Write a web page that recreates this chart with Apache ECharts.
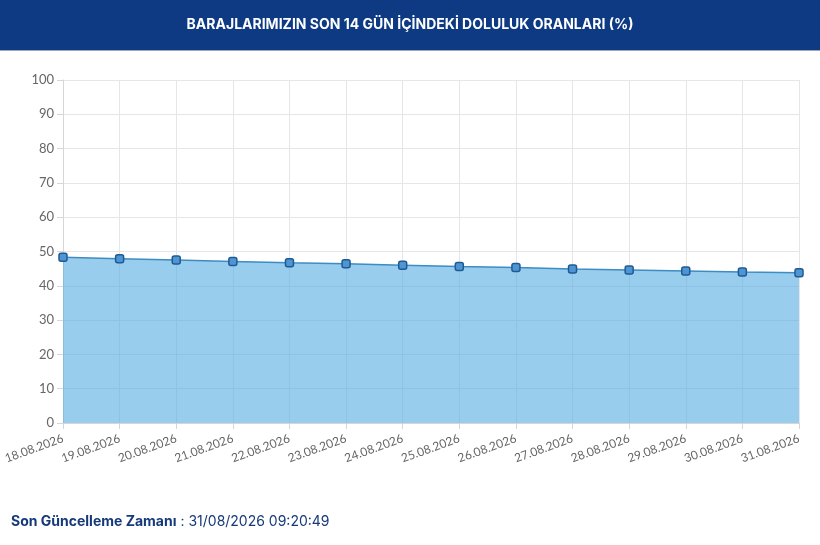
<!DOCTYPE html>
<html>
<head>
<meta charset="utf-8">
<script src="https://cdn.jsdelivr.net/npm/echarts@6/dist/echarts.min.js"></script>
<style>
  html, body { margin: 0; padding: 0; background: #fff; }
  #chart { width: 820px; height: 545px; }
</style>
</head>
<body>
<div id="chart"></div>
<script>
// tarih etiketleri
const dates = [
  '18.08.2026', '19.08.2026', '20.08.2026', '21.08.2026', '22.08.2026',
  '23.08.2026', '24.08.2026', '25.08.2026', '26.08.2026', '27.08.2026',
  '28.08.2026', '29.08.2026', '30.08.2026', '31.08.2026'
];
// doluluk oranlari (%)
const rates = [48.3, 47.9, 47.5, 47.1, 46.7, 46.4, 46.0, 45.6, 45.3, 44.9, 44.6, 44.3, 44.0, 43.8];

const titleText = 'BARAJLARIMIZIN SON 14 GÜN İÇİNDEKİ DOLULUK ORANLARI (%)';
const updateLabel = 'Son Güncelleme Zamanı';
const updateTime = '31/08/2026 09:20:49';

const myChart = echarts.init(document.getElementById('chart'));

myChart.setOption({
  animation: false,
  textStyle: { fontFamily: 'Lato, "Noto Sans", sans-serif' },
  graphic: [
    {
      type: 'rect',
      shape: { x: 0, y: 0, width: 820, height: 50 },
      style: { fill: '#0d3a82' },
      z: 0
    },
    {
      type: 'rect',
      shape: { x: 0, y: 50, width: 820, height: 1 },
      style: { fill: '#9aa6b8' },
      z: 0
    }
  ],
  title: [
    {
      text: titleText,
      left: 'center',
      top: 13,
      textStyle: {
        color: '#fff',
        fontSize: 14,
        fontWeight: 'bold',
        fontFamily: 'Inter, "Noto Sans", sans-serif'
      }
    },
    {
      text: '{b|' + updateLabel + '}{n| : ' + updateTime + '}',
      left: 6,
      top: 510,
      textStyle: {
        rich: {
          b: { color: '#15397a', fontSize: 14, fontWeight: 'bold', fontFamily: 'Inter, "Noto Sans", sans-serif' },
          n: { color: '#15397a', fontSize: 14, fontWeight: 'normal', fontFamily: 'Inter, "Noto Sans", sans-serif' }
        }
      }
    }
  ],
  grid: { left: 63, right: 21, top: 80, bottom: 122, containLabel: false, outerBoundsMode: 'none' },
  xAxis: {
    type: 'category',
    data: dates,
    boundaryGap: false,
    axisLine: { lineStyle: { color: '#d6d6d6' } },
    axisTick: { show: true, interval: 0, length: 6, lineStyle: { color: '#d6d6d6' } },
    axisLabel: { interval: 0, rotate: 20, color: '#666', fontSize: 12, margin: 15 },
    splitLine: { show: true, interval: 0, lineStyle: { color: '#e6e6e6' } }
  },
  yAxis: {
    type: 'value',
    min: 0,
    max: 100,
    interval: 10,
    axisLine: { show: true, lineStyle: { color: '#d6d6d6' } },
    axisTick: { show: true, length: 6, lineStyle: { color: '#d6d6d6' } },
    axisLabel: { color: '#666', fontSize: 13, margin: 9 },
    splitLine: { lineStyle: { color: '#e6e6e6' } }
  },
  series: [
    {
      type: 'line',
      data: rates,
      symbol: 'roundRect',
      symbolSize: 8,
      showAllSymbol: true,
      lineStyle: { color: '#3d8cc4', width: 1.5 },
      itemStyle: { color: '#4f95d3', borderColor: '#1f5b93', borderWidth: 1.5 },
      areaStyle: { color: 'rgba(85, 172, 225, 0.6)', opacity: 1 }
    }
  ]
});
</script>
</body>
</html>
